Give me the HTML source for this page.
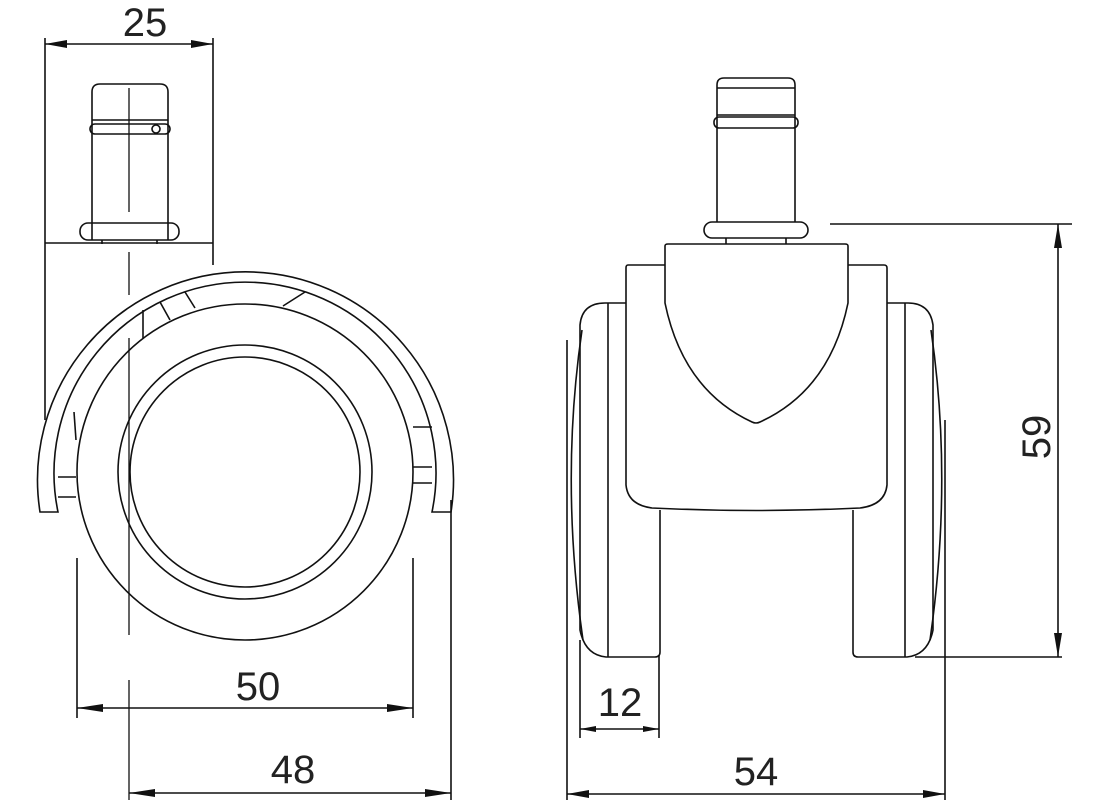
<!DOCTYPE html>
<html><head><meta charset="utf-8"><style>
html,body{margin:0;padding:0;background:#fff;}
svg{display:block}
text{font-family:"Liberation Sans",sans-serif;font-size:40px;fill:#222;}
</style></head><body>
<svg width="1100" height="800" viewBox="0 0 1100 800" xmlns="http://www.w3.org/2000/svg">
<g fill="none" stroke="#111" stroke-width="1.6">
<!-- LEFT VIEW -->
<line x1="45" y1="38" x2="45" y2="420"/>
<line x1="213" y1="38" x2="213" y2="265"/>
<line x1="45" y1="243" x2="213" y2="243"/>
<!-- stem -->
<path d="M92,240 V92 Q92,84 100,84 H160 Q168,84 168,92 V240"/>
<line x1="92" y1="120" x2="168" y2="120"/>
<rect x="90" y="124" width="80" height="10" rx="5"/>
<circle cx="156" cy="129" r="4"/>
<rect x="80" y="223" width="99" height="17" rx="8"/>
<line x1="102" y1="240" x2="102" y2="244"/><line x1="157" y1="240" x2="157" y2="244"/>
<!-- centerline -->
<line x1="129" y1="88" x2="129" y2="212" stroke-width="1.3"/>
<line x1="129" y1="252" x2="129" y2="295" stroke-width="1.3"/>
<line x1="129" y1="338" x2="129" y2="635" stroke-width="1.3"/>
<line x1="129" y1="680" x2="129" y2="800" stroke-width="1.3"/>
<!-- wheel -->
<circle cx="245" cy="472" r="168"/>
<circle cx="245" cy="472" r="127"/>
<circle cx="245" cy="472" r="115"/>
<!-- fork arcs -->
<path d="M40,512 A208,208 0 1 1 451,512 L432,512 A191,191 0 1 0 58,512 Z"/>
<path d="M58,477 H76 M58,497 H76 M413,427 H432 M413,467 H432 M413,483 H432"/>
<path d="M74,412 L76,440"/>
<path d="M143,310 L143,338 M160,302 L170,320 M185,292 L195,308 M305,292 L283,306"/>
<!-- 25 dim -->
<line x1="45" y1="44" x2="213" y2="44"/>
<!-- 50 dim -->
<line x1="77" y1="558" x2="77" y2="718"/>
<line x1="413" y1="558" x2="413" y2="718"/>
<line x1="77" y1="708" x2="413" y2="708"/>
<!-- 48 dim -->
<line x1="451" y1="500" x2="451" y2="800"/>
<line x1="129" y1="793" x2="451" y2="793"/>

<!-- RIGHT VIEW -->
<path d="M717,222 V85 Q717,78 724,78 H788 Q795,78 795,85 V222"/>
<line x1="717" y1="88" x2="795" y2="88"/>
<line x1="717" y1="115" x2="795" y2="115"/>
<rect x="714" y="117" width="84" height="11" rx="5"/>
<rect x="704" y="222" width="104" height="16" rx="8"/>
<line x1="726" y1="238" x2="726" y2="244"/><line x1="786" y1="238" x2="786" y2="244"/>
<!-- body -->
<path d="M665,265 H628 Q626,265 626,268 V485 Q628,505 652,508 Q756,513 860,508 Q885,505 887,485 V268 Q887,265 884,265 H848"/>
<path d="M665,303 V246 Q665,244 668,244 H845 Q848,244 848,246 V303 Q830,390 760,422 Q756,424 752,422 Q683,390 665,303 Z"/>
<!-- left wheel -->
<path d="M626,303 H605 Q582,303 580,325 V630 Q585,655 606,657 H655 Q660,657 660,652 V510"/>
<line x1="608" y1="303" x2="608" y2="657"/>
<path d="M582,330 Q560,480 583,640"/>
<!-- right wheel -->
<path d="M887,303 H908 Q930,303 933,325 V630 Q928,655 907,657 H858 Q853,657 853,652 V510"/>
<line x1="905" y1="303" x2="905" y2="657"/>
<path d="M931,330 Q953,480 930,640"/>
<!-- 12 dim -->
<line x1="580" y1="640" x2="580" y2="738"/>
<line x1="659" y1="655" x2="659" y2="738"/>
<line x1="580" y1="729" x2="659" y2="729"/>
<!-- 54 dim -->
<line x1="567" y1="340" x2="567" y2="800"/>
<line x1="945" y1="420" x2="945" y2="800"/>
<line x1="567" y1="794" x2="945" y2="794"/>
<!-- 59 dim -->
<line x1="830" y1="224" x2="1072" y2="224"/>
<line x1="915" y1="657" x2="1062" y2="657"/>
<line x1="1058" y1="224" x2="1058" y2="657"/>
</g>
<g fill="#111">
<path d="M45,44 l22,-4 v8z"/><path d="M213,44 l-22,-4 v8z"/>
<path d="M77,708 l26,-4 v8z"/><path d="M413,708 l-26,-4 v8z"/>
<path d="M129,793 l26,-4 v8z"/><path d="M451,793 l-26,-4 v8z"/>
<path d="M580,729 l16,-3 v6z"/><path d="M659,729 l-16,-3 v6z"/>
<path d="M567,794 l22,-4 v8z"/><path d="M945,794 l-22,-4 v8z"/>
<path d="M1058,224 l-4,24 h8z"/><path d="M1058,657 l-4,-24 h8z"/>
</g>
<text x="145" y="36" text-anchor="middle">25</text>
<text x="258" y="700" text-anchor="middle">50</text>
<text x="293" y="783" text-anchor="middle">48</text>
<text x="620" y="716" text-anchor="middle">12</text>
<text x="756" y="785" text-anchor="middle">54</text>
<text transform="translate(1050,437) rotate(-90)" text-anchor="middle">59</text>
</svg>
</body></html>
